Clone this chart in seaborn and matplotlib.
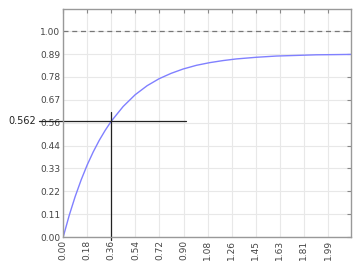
import numpy as np
import matplotlib
matplotlib.use("Agg")
import matplotlib.pyplot as plt
import seaborn as sns
import pandas as pd

# data
t_vals = [0.0, 0.045, 0.09, 0.135, 0.18, 0.225, 0.27, 0.315, 0.36, 0.45, 0.54, 0.63,
          0.72, 0.81, 0.90, 1.00, 1.10, 1.20, 1.30, 1.45, 1.60, 1.75, 1.90, 2.05, 2.17]
y_vals = [0.0, 0.105, 0.197, 0.278, 0.350, 0.413, 0.469, 0.518, 0.562, 0.634, 0.691, 0.735,
          0.769, 0.795, 0.816, 0.834, 0.847, 0.857, 0.865, 0.873, 0.879, 0.882, 0.885, 0.886, 0.887]
x_tick_labels = ["0.00", "0.18", "0.36", "0.54", "0.72", "0.90", "1.08", "1.26",
                 "1.45", "1.63", "1.81", "1.99"]
y_tick_labels = ["0.00", "0.11", "0.22", "0.33", "0.44", "0.56", "0.67", "0.78", "0.89", "1.00"]
marker_t = 0.36
marker_y = 0.562
ref_level = 1.0

sns.set_style("whitegrid")
plt.rcParams['font.family'] = ['DejaVu Sans']

fig = plt.figure(figsize=(3.59, 2.67), dpi=100)
ax = fig.add_axes([0.176, 0.112, 0.801, 0.854])

df = pd.DataFrame({"t": t_vals, "y": y_vals})
sns.lineplot(data=df, x="t", y="y", ax=ax, color="#8080ff", linewidth=1.0)

xmax = 2.168
step = xmax / 12
ax.set_xlim(0, 2.158)
ax.set_ylim(0, 1.107)

ax.set_xticks(np.arange(len(x_tick_labels)) * step)
ax.set_xticklabels(x_tick_labels, rotation=90)
ax.set_yticks(np.linspace(0, 1, len(y_tick_labels)))
ax.set_yticklabels(y_tick_labels)

ax.tick_params(axis="both", direction="in", length=3, width=0.8, color="#888888",
               labelsize=6.5, labelcolor="#444444", top=True, right=True, pad=2)
ax.grid(True, color="#e8e8e8", linewidth=0.8)
for s in ax.spines.values():
    s.set_color("#999999")
    s.set_linewidth(1.0)

ax.set_xlabel("")
ax.set_ylabel("")

ax.axhline(ref_level, color="#777777", linestyle=(0, (4, 3)), linewidth=0.9)
ax.plot([-0.18, 0.92], [marker_y, marker_y], color="#222222", linewidth=0.9, clip_on=False)
ax.plot([marker_t, marker_t], [-0.015, 0.607], color="#222222", linewidth=0.9, clip_on=False)
ax.text(-0.2, marker_y, f"{marker_y:.3f}", ha="right", va="center", fontsize=7,
        color="#222222", clip_on=False)

fig.savefig("out.png", dpi=100)
